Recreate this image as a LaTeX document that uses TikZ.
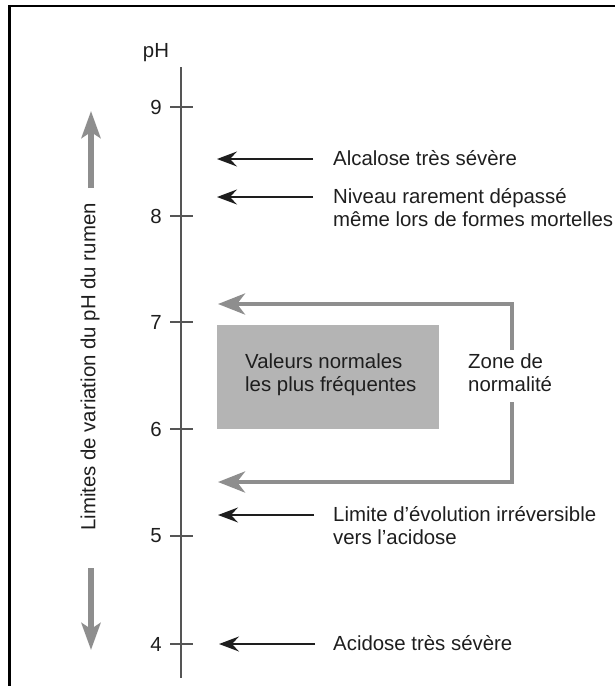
\documentclass[tikz,border=0pt]{standalone}
\usepackage{fontspec}
\setmainfont{Liberation Sans}
\usetikzlibrary{arrows.meta}
\definecolor{garrow}{RGB}{142,142,142}
\definecolor{gbox}{RGB}{180,180,180}
\definecolor{ink}{RGB}{30,30,30}
\definecolor{axisc}{RGB}{85,85,85}
\begin{document}
\begin{tikzpicture}[x=1pt,y=-1pt,
  lbl/.style={font=\fontsize{20.4}{23}\selectfont, text=ink, inner sep=0pt, align=left},
  ticklbl/.style={font=\fontsize{20.4}{23}\selectfont, text=ink, inner sep=0pt, anchor=east},
  frameline/.style={line width=2.6pt, black},
  axisline/.style={line width=1.3pt, axisc},
  blackarrow/.style={line width=1.5pt, ink, -{Stealth[length=20pt,width=15pt,inset=7pt]}},
  grayarrow/.style={line width=4.5pt, garrow, line join=miter, -{Stealth[length=27pt,width=21pt,inset=8pt]}},
  bigarrow/.style={line width=5.5pt, garrow, -{Stealth[length=27pt,width=19pt,inset=6pt]}},
  normbox/.style={fill=gbox, draw=none, minimum width=222pt, minimum height=104pt, anchor=north west, inner sep=0pt}
]
\useasboundingbox (0,0) rectangle (615,686);

% frame
\coordinate (fbl) at (9.5,686);
\coordinate (ftl) at (9.5,6);
\coordinate (ftr) at (615,6);
\draw[frameline] (fbl) -- (ftl) -- (ftr);

% axis
\coordinate (axtop) at (181,67);
\coordinate (axbot) at (181,678);
\draw[axisline] (axtop) -- (axbot);
\node[lbl, anchor=base] (ph) at (156,57) {pH};

% ticks
\foreach \v/\yy in {9/107,8/216,7/322,6/429,5/536,4/644}{
  \coordinate (tl\v) at (170,\yy);
  \coordinate (tr\v) at (193,\yy);
  \draw[axisline] (tl\v) -- (tr\v);
  \node[ticklbl] (tick\v) at (162,\yy) {\v};
}

% normal values box
\node[normbox] (box) at (217,325) {};
\node[lbl, anchor=base west] (valeurs) at (245,391.5) {Valeurs normales\\les plus fréquentes};

% black arrows and texts
\coordinate (a1s) at (313,159); \coordinate (a1e) at (217,159);
\draw[blackarrow] (a1s) -- (a1e);
\node[lbl, anchor=base west] (alcalose) at (333,165.5) {Alcalose très sévère};

\coordinate (a2s) at (313,197); \coordinate (a2e) at (217,197);
\draw[blackarrow] (a2s) -- (a2e);
\node[lbl, anchor=base west] (niveau) at (333,226.5) {Niveau rarement dépassé\\même lors de formes mortelles};

\coordinate (a3s) at (314,515); \coordinate (a3e) at (218,515);
\draw[blackarrow] (a3s) -- (a3e);
\node[lbl, anchor=base west] (limite) at (333,544.5) {Limite d'évolution irréversible\\vers l'acidose};

\coordinate (a4s) at (315,644); \coordinate (a4e) at (219,644);
\draw[blackarrow] (a4s) -- (a4e);
\node[lbl, anchor=base west] (acidose) at (333,650.5) {Acidose très sévère};

% zone de normalite bracket
\node[lbl, anchor=base west] (zone) at (468,391.5) {Zone de\\normalité};
\coordinate (z1) at (512,350);
\coordinate (z2) at (512,304);
\coordinate (z3) at (218,304);
\coordinate (z4) at (512,402);
\coordinate (z5) at (512,482);
\coordinate (z6) at (218,482);
\draw[grayarrow] (z1) -- (z2) -- (z3);
\draw[grayarrow] (z4) -- (z5) -- (z6);

% left vertical label and arrows
\node[lbl, rotate=90] (limites) at (90,367) {Limites de variation du pH du rumen};
\coordinate (u1) at (91,188); \coordinate (u2) at (91,111);
\draw[bigarrow] (u1) -- (u2);
\coordinate (d1) at (91,568); \coordinate (d2) at (91,650);
\draw[bigarrow] (d1) -- (d2);
\end{tikzpicture}
\end{document}
